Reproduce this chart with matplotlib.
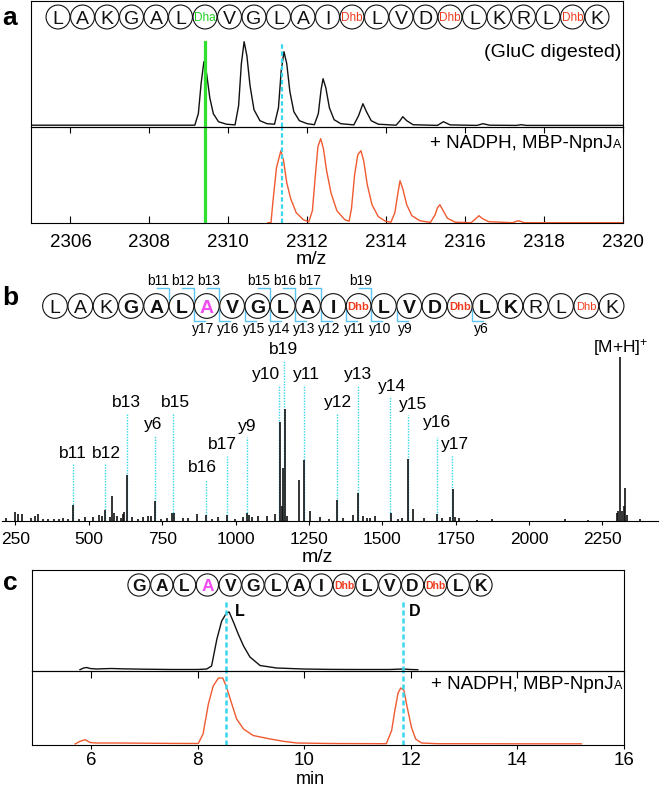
import matplotlib
matplotlib.use("Agg")
import matplotlib.pyplot as plt
from matplotlib.patches import Circle
from matplotlib.transforms import offset_copy

# ---------------- data ----------------
# panel a: intact peptide isotope envelopes (m/z, relative intensity)
GLUC_MZ = [2305.0, 2309.15, 2309.24, 2309.31, 2309.38, 2309.45, 2309.53, 2309.62, 2309.75, 2309.95,
           2310.17, 2310.26, 2310.33, 2310.40, 2310.47, 2310.55, 2310.65, 2310.80, 2310.98,
           2311.17, 2311.27, 2311.34, 2311.41, 2311.48, 2311.56, 2311.66, 2311.80, 2312.00,
           2312.18, 2312.28, 2312.35, 2312.40, 2312.47, 2312.56, 2312.68, 2312.85,
           2313.18, 2313.30, 2313.41, 2313.50, 2313.62, 2313.80,
           2314.25, 2314.35, 2314.42, 2314.52, 2314.68,
           2315.30, 2315.45, 2315.62, 2316.30, 2316.45, 2316.62, 2317.30, 2317.42, 2317.55, 2320.0]
GLUC_INT = [0.5, 0.5, 12, 42, 64, 52, 28, 12, 4, 1.5,
            0.8, 20, 62, 84, 70, 40, 16, 5, 2,
            1.5, 18, 55, 74, 62, 34, 14, 5, 2,
            1, 12, 36, 47, 38, 18, 6, 2,
            0.8, 10, 22, 14, 5, 1.5,
            0.5, 5, 9, 5, 1,
            0.3, 4, 0.8, 0.3, 2, 0.5, 0.3, 1, 0.3, 0.3]
NPNJ_MZ = [2311.0, 2311.08, 2311.14, 2311.22, 2311.33, 2311.40, 2311.48, 2311.58, 2311.72, 2311.90,
           2312.04, 2312.13, 2312.20, 2312.27, 2312.34, 2312.41, 2312.49, 2312.60, 2312.75, 2312.95,
           2313.06, 2313.12, 2313.20, 2313.28, 2313.36, 2313.43, 2313.52, 2313.64, 2313.80, 2313.98,
           2314.12, 2314.22, 2314.29, 2314.35, 2314.42, 2314.52, 2314.65, 2314.85, 2315.12, 2315.24,
           2315.30, 2315.36, 2315.43, 2315.55, 2315.75, 2316.15, 2316.27, 2316.35, 2316.44, 2316.60,
           2317.20, 2317.35, 2317.50, 2320.0]
NPNJ_INT = [0, 0, 25, 55, 72, 62, 40, 24, 10, 3,
            1, 12, 45, 76, 84, 74, 52, 30, 12, 3,
            1.5, 14, 48, 68, 72, 62, 38, 18, 6, 1.5,
            0.5, 10, 28, 42, 34, 18, 7, 2, 0.3, 8,
            15, 18, 13, 4.5, 0.5, 0, 4, 7, 4, 1,
            0, 2, 0, 0]
MARK_DHA = 2309.40
MARK_SHIFT = 2311.37

SEQ_A = ["L", "A", "K", "G", "A", "L", "Dha", "V", "G", "L", "A", "I", "Dhb",
         "L", "V", "D", "Dhb", "L", "K", "R", "L", "Dhb", "K"]

# panel b: MS/MS spectrum (m/z, intensity)
MS2_MZ = [218, 248, 260, 271, 303, 316, 328, 345, 362, 380,
          398, 413, 430, 445, 468, 487, 515, 535, 544, 555,
          572, 580, 586, 595, 608, 615, 620, 629, 646, 668,
          686, 703, 712, 726, 745, 765, 783, 791, 820, 839,
          868, 898, 920, 941, 970, 998, 1024, 1038, 1047, 1055,
          1078, 1106, 1135, 1152, 1158, 1163, 1169, 1177, 1218, 1235,
          1254, 1288, 1320, 1345, 1365, 1402, 1417, 1436, 1447, 1459,
          1474, 1530, 1555, 1567, 1588, 1606, 1642, 1686, 1705, 1731,
          1740, 1748, 1760, 1822, 1873, 2123, 2203, 2299, 2305, 2309,
          2317, 2325, 2327, 2334, 2379]
MS2_INT = [3, 9, 7, 7, 3, 5, 7, 2, 2, 2,
           2, 3, 2, 16, 2, 4, 4, 6, 5, 11,
           4, 25, 8, 5, 3, 7, 9, 46, 4, 2,
           4, 5, 5, 20, 2, 3, 8, 8, 3, 3,
           7, 6, 2, 4, 6, 2, 4, 8, 6, 4,
           5, 5, 7, 99, 15, 53, 112, 5, 41, 61,
           10, 4, 2, 21, 3, 6, 28, 5, 3, 3,
           5, 8, 2, 3, 62, 12, 3, 7, 3, 4,
           32, 4, 3, 1, 2, 2, 1, 8, 10, 164,
           10, 15, 33, 6, 2]
ION_NAMES = ["b11", "b12", "b13", "y6", "b15", "b16", "b17", "y9", "y10", "b19",
             "y11", "y12", "y13", "y14", "y15", "y16", "y17"]
ION_MZ = [445, 555, 629, 726, 786, 898, 970, 1038, 1147, 1166,
          1235, 1345, 1417, 1527, 1587, 1686, 1737]
PARENT_MZ = 2309

SEQ_B = ["L", "A", "K", "G", "A", "L", "A", "V", "G", "L", "A", "I", "Dhb",
         "L", "V", "D", "Dhb", "L", "K", "R", "L", "Dhb", "K"]
SEQ_B_OFFSET = 6  # residues missing in front of the GluC fragment
B_IONS_SEQ = [11, 12, 13, 15, 16, 17, 19]
Y_IONS_SEQ = [17, 16, 15, 14, 13, 12, 11, 10, 9, 6]

# panel c: extracted-ion chromatograms (min, intensity)
LC_T_CTRL = [5.79, 5.86, 5.92, 5.98, 6.10, 6.25, 6.39, 6.55, 7.0, 7.5,
             8.0, 8.17, 8.26, 8.36, 8.45, 8.54, 8.59, 8.67, 8.76, 8.86,
             8.98, 9.17, 9.48, 9.98, 10.5, 11.0, 11.6, 11.85, 12.0, 12.13]
LC_I_CTRL = [0.3, 2, 2.5, 1.5, 1, 1.3, 1.5, 1.2, 0.8, 0.5,
             0.5, 1, 4, 31, 49, 57, 58, 48, 36, 24,
             13, 4.5, 2, 1, 0.6, 0.5, 0.5, 1, 0.5, 0.3]
LC_T_ENZ = [5.70, 5.79, 5.89, 5.98, 6.10, 6.5, 7.0, 7.5, 8.01, 8.10,
            8.20, 8.29, 8.39, 8.47, 8.54, 8.64, 8.73, 8.86, 9.04, 9.36,
            9.61, 9.86, 10.5, 11.0, 11.54, 11.64, 11.70, 11.76, 11.81, 11.87,
            11.93, 12.01, 12.09, 12.20, 12.5, 13.0, 14.0, 15.2]
LC_I_ENZ = [0, 2.7, 4.3, 1.5, 1, 1, 0.8, 0.6, 0.5, 10,
            40, 58, 66, 66, 57, 40, 25, 15, 8.5, 5,
            2.7, 1, 0.5, 0.4, 0.3, 13.7, 33.7, 51, 56, 53.7,
            37, 17, 5, 1, 0.3, 0.3, 0.2, 0.2]
LC_MARK_L = 8.53
LC_MARK_D = 11.85
SEQ_C = ["G", "A", "L", "A", "V", "G", "L", "A", "I", "Dhb", "L", "V", "D", "Dhb", "L", "K"]

# ---------------- layout / style ----------------
FIG_W, FIG_H = 660, 791
BLACK = "#111111"
RED = "#f05a30"
GREEN = "#2fe02f"
CYAN = "#36d6ee"
DHB_RED = "#f03c1e"
PINK = "#f04cf0"
BRACKET = "#5cc4f0"

plt.rcParams["font.family"] = ["Liberation Sans", "DejaVu Sans"]
plt.rcParams["mathtext.default"] = "regular"
plt.rcParams["axes.linewidth"] = 0.8


def px_rect(x0, y0, x1, y1):
    return [x0 / FIG_W, 1 - y1 / FIG_H, (x1 - x0) / FIG_W, (y1 - y0) / FIG_H]


def bare(ax):
    ax.set_yticks([])
    ax.set_facecolor("none")


def treatment_label(ax, fig, y_frac):
    ax.text(0.997, y_frac, "A", transform=ax.transAxes, ha="right", va="baseline", fontsize=9)
    shifted = offset_copy(ax.transAxes, fig=fig, x=-6.4, y=0, units="points")
    ax.text(0.997, y_frac, "+ NADPH, MBP-NpnJ", transform=shifted, ha="right", va="baseline", fontsize=13.5)


def draw_sequence(ax, residues, x0, step, cy, fs, small_fs, bold=None, pink=None):
    r = step / 2 - 0.3
    centers = []
    for i, res in enumerate(residues):
        cx = x0 + i * step
        centers.append(cx)
        ax.add_patch(Circle((cx, cy), r, facecolor="white", edgecolor=BLACK, lw=0.8, zorder=3))
        weight = "bold" if bold is not None and bold(i) else "normal"
        color = BLACK
        size = fs
        if res == "Dha":
            color, size = "#22d022", small_fs
        elif res == "Dhb":
            color, size = DHB_RED, small_fs
        elif pink is not None and i == pink:
            color = PINK
        ax.text(cx, cy + 0.36 * size * 100 / 72, res, ha="center", va="baseline",
                fontsize=size, color=color, fontweight=weight, zorder=4)
    return centers


fig = plt.figure(figsize=(FIG_W / 100, FIG_H / 100), dpi=100)

# ---- panel a ----
A_TOP_MARK = 84
ax_a1 = fig.add_axes(px_rect(31, 1, 623, 127))
ax_a1.plot(GLUC_MZ, GLUC_INT, color=BLACK, lw=1.0)
ax_a1.set_xlim(2305, 2320)
ax_a1.set_ylim(-1.3, 124.7)
ax_a1.set_xticks(range(2306, 2321, 2))
ax_a1.tick_params(axis="x", direction="out", length=4.5, width=0.8, labelbottom=False)
bare(ax_a1)
frac = (A_TOP_MARK + 1.3) / 126
ax_a1.axvline(MARK_DHA, ymax=frac, color=GREEN, lw=2.3)
ax_a1.axvline(MARK_SHIFT, ymax=frac, color=CYAN, lw=1.6, dashes=(2, 1.2))
ax_a1.text(0.997, 0.595, "(GluC digested)", transform=ax_a1.transAxes, ha="right", va="center",
           fontsize=14)

ax_a2 = fig.add_axes(px_rect(31, 127, 623, 223))
ax_a2.plot(NPNJ_MZ, NPNJ_INT, color=RED, lw=1.0)
ax_a2.set_xlim(2305, 2320)
ax_a2.set_ylim(-0.3, 95.7)
ax_a2.set_xticks(range(2306, 2321, 2))
ax_a2.tick_params(axis="x", direction="in", length=5, width=0.8, labelsize=13.5, pad=8)
bare(ax_a2)
ax_a2.axvline(MARK_DHA, color=GREEN, lw=2.3)
ax_a2.axvline(MARK_SHIFT, color=CYAN, lw=1.6, dashes=(2, 1.2))
ax_a2.set_xlabel("m/z", fontsize=14)
ax_a2.xaxis.set_label_coords(0.473, -0.385)
ax_a2.xaxis.label.set_va("center")
treatment_label(ax_a2, fig, 0.78)

# ---- panel b ----
B_BASE_PX = 521
ax_b = fig.add_axes(px_rect(2, 330, 658, B_BASE_PX))
ax_b.vlines(ION_MZ, 0, [58, 58, 108, 85, 108, 41, 65, 84, 136, 161, 136, 108, 136, 124, 106, 84, 66],
            colors=CYAN, linestyles=(0, (1, 1)), lw=1.0, zorder=1)
ax_b.vlines(MS2_MZ, 0, MS2_INT, color=BLACK, lw=1.2, zorder=2)
ax_b.set_xlim(204, 2440)
ax_b.set_ylim(0, 191)
ax_b.set_xticks(range(250, 2251, 250))
ax_b.tick_params(axis="x", direction="out", length=3, width=0.8, labelsize=12.5, pad=5)
for side in ("top", "left", "right"):
    ax_b.spines[side].set_visible(False)
bare(ax_b)
label_h = [67, 67, 118, 96, 118, 53, 76, 94, 146, 171, 146, 118, 146, 134, 116, 98, 76]
label_dx = [0, 1, 0, -2, 3, -3, -4, 0, -13, -1, 2, 1, 0, 2, 5, 0, 3]
for name, mz, h, dx in zip(ION_NAMES, ION_MZ, label_h, label_dx):
    ax_b.annotate(name, xy=(mz, h), xytext=(dx * 0.72, 0), textcoords="offset points",
                  ha="center", va="center", fontsize=12.5)
ax_b.annotate("[M+H]$^{+}$", xy=(PARENT_MZ, 173), xytext=(0.7, 0), textcoords="offset points",
              ha="center", va="center", fontsize=12.5)
ax_b.set_xlabel("m/z", fontsize=14)
ax_b.xaxis.set_label_coords(0.481, -0.19)
ax_b.xaxis.label.set_va("center")

# ---- panel c ----
C_TOP_MARK = 70
ax_c1 = fig.add_axes(px_rect(32, 570, 624, 671))
ax_c1.plot(LC_T_CTRL, LC_I_CTRL, color=BLACK, lw=1.0)
ax_c1.set_xlim(4.89, 16)
ax_c1.set_ylim(-1, 100)
ax_c1.set_xticks(range(6, 17, 2))
ax_c1.tick_params(axis="x", direction="out", length=5, width=0.8, labelbottom=False)
bare(ax_c1)
cfrac = (C_TOP_MARK + 1) / 101
for t in (LC_MARK_L, LC_MARK_D):
    ax_c1.axvline(t, ymax=cfrac, color=CYAN, lw=1.8, dashes=(2, 1.2))
ax_c1.text(8.78, 59, "L", ha="center", va="center", fontsize=11.5, fontweight="bold")
ax_c1.text(12.08, 58, "D", ha="center", va="center", fontsize=11.5, fontweight="bold")

ax_c2 = fig.add_axes(px_rect(32, 671, 624, 745))
ax_c2.plot(LC_T_ENZ, LC_I_ENZ, color=RED, lw=1.0)
ax_c2.set_xlim(4.89, 16)
ax_c2.set_ylim(-1, 73)
ax_c2.set_xticks(range(6, 17, 2))
ax_c2.tick_params(axis="x", direction="out", length=3, width=0.8, labelsize=13.5, pad=2)
bare(ax_c2)
for t in (LC_MARK_L, LC_MARK_D):
    ax_c2.axvline(t, color=CYAN, lw=1.8, dashes=(2, 1.2))
ax_c2.set_xlabel("min", fontsize=13)
ax_c2.xaxis.set_label_coords(0.47, -35 / 74)
ax_c2.xaxis.label.set_va("center")
treatment_label(ax_c2, fig, 0.76)

# ---- overlay: sequences, fragment brackets, panel letters ----
ov = fig.add_axes([0, 0, 1, 1], zorder=10)
ov.set_xlim(0, FIG_W)
ov.set_ylim(FIG_H, 0)
ov.axis("off")
ov.patch.set_alpha(0)

draw_sequence(ov, SEQ_A, 58, 24.5, 17, 14, 8.5)
b_centers = draw_sequence(ov, SEQ_B, 55, 25.3, 306, 14, 8,
                          bold=lambda i: 3 <= i <= 18, pink=6)
draw_sequence(ov, SEQ_C, 139, 22.8, 585, 12.5, 7.5, bold=lambda i: True, pink=3)

step_b = 25.3
for n in B_IONS_SEQ:
    k = n - SEQ_B_OFFSET
    xb = b_centers[k - 1] + step_b / 2
    ov.plot([xb - 12, xb, xb], [288, 288, 300], color=BRACKET, lw=1.0, zorder=2)
    ov.text(xb - 11, 281, f"b{n}", ha="center", va="center", fontsize=10)
for n in Y_IONS_SEQ:
    k = len(SEQ_B) - n
    xy = b_centers[k - 1] + step_b / 2
    ov.plot([xy, xy, xy + 11], [310, 321, 321], color=BRACKET, lw=1.0, zorder=2)
    ov.text(xy + 9, 329, f"y{n}", ha="center", va="center", fontsize=10)

for letter, (lx, ly) in zip("abc", [(10, 25), (10, 305), (10, 590)]):
    ov.text(lx, ly, letter, ha="center", va="baseline", fontsize=19, fontweight="bold")

fig.savefig("out.png", dpi=100)
